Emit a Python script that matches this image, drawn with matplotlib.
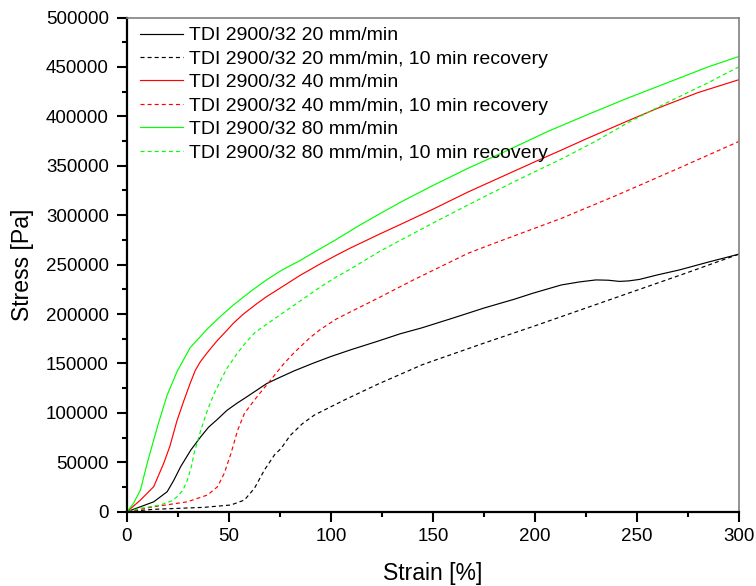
import matplotlib
matplotlib.use("Agg")
import matplotlib.pyplot as plt
from matplotlib.ticker import MultipleLocator

plt.rcParams['font.family'] = ['Liberation Sans', 'DejaVu Sans']

# ---- data ----
x_20 = [0, 6.6, 13.1, 19.7, 23, 26.3, 31.3, 36.2, 40, 44.1, 49, 53.9, 58.6, 63.7, 68.4,
        74, 82, 91, 100, 110, 123, 134, 144.6, 160, 175, 190, 199, 213, 222, 230, 236,
        241.5, 246, 251.3, 260, 270.9, 285, 300]
y_20 = [0, 5000, 10000, 20200, 32000, 45500, 62400, 75900, 85500, 93000, 102500,
        109700, 116000, 123000, 129500, 135000, 142500, 150000, 157000, 164000,
        172500, 180000, 186000, 196000, 206000, 215000, 221000, 229400, 232500,
        234500, 234200, 233000, 233500, 235000, 239500, 244600, 252500, 260500]

x_20r = [0, 13, 37.7, 51, 57.6, 62.5, 67.4, 72.3, 75.6, 80, 86, 91.9, 106.6, 123, 144.6,
         150, 175, 200, 225, 250, 275, 300]
y_20r = [0, 2400, 4400, 6800, 11800, 23700, 42200, 57400, 64100, 77000, 89000, 97800,
         113000, 129000, 148500, 152500, 170500, 188000, 206000, 224000, 242000, 260500]

x_40 = [0, 6.6, 13.1, 18, 21, 24.5, 28, 31, 33.5, 35.9, 39.2, 44, 49, 52.1, 57.1, 63.7,
        68.4, 73.4, 84.8, 95, 102.7, 109.3, 124, 134.5, 150, 167.3, 185, 200, 213.2,
        225, 244.8, 260, 280, 300]
y_40 = [0, 11800, 25300, 49000, 66000, 92000, 113000, 130000, 143000, 151500, 160500,
        172500, 183500, 190500, 200000, 210500, 217500, 224000, 239000, 251000,
        259500, 266500, 281000, 291000, 306000, 323500, 340000, 354000, 366000,
        377000, 394700, 408000, 424000, 437000]

x_40r = [0, 13.1, 29.6, 39.5, 44.4, 47.7, 51, 54.3, 57.6, 62.5, 66, 70.5, 76.6, 82,
         89.7, 94.9, 102.7, 110.9, 124, 140, 167.3, 180, 213.2, 240, 270, 300]
y_40r = [0, 5000, 10000, 16900, 25300, 38800, 59000, 82600, 99500, 113000, 122000,
         133300, 149000, 161000, 176000, 184500, 195000, 203500, 217000, 234000,
         261500, 271500, 296900, 320000, 347000, 374500]

x_80 = [0, 3.2, 6.6, 9.9, 13.1, 15.5, 19.7, 24.6, 31, 35.9, 39.2, 45, 52.1, 57, 62,
        68.4, 76, 84.8, 93, 102.7, 113, 124, 134.5, 150, 167.3, 185, 206.7, 225, 245,
        265, 285, 300]
y_80 = [0, 8500, 22000, 49000, 72600, 90000, 118000, 142000, 166000, 177000, 184500,
        196000, 209000, 217000, 225000, 234500, 244500, 254000, 264000, 275500,
        288500, 301500, 313500, 330000, 347500, 364000, 385000, 401000, 418000,
        434000, 450000, 460500]

x_80r = [0, 6.6, 16.4, 22, 24.6, 27.5, 29.6, 31.5, 32.9, 36.2, 39.5, 42.8, 46.1, 49,
         54.1, 58.6, 62.9, 68.4, 75, 84.8, 95.3, 102.7, 110, 124, 134.5, 150, 167.3,
         190, 213.2, 230, 246, 265, 285, 300]
y_80r = [0, 3400, 6800, 11000, 15200, 22000, 32000, 45000, 59000, 82600, 103000,
         119800, 133500, 145000, 160300, 172000, 181500, 189500, 199000, 213000,
         228000, 237500, 246000, 263500, 275000, 292000, 310400, 334000, 357000,
         375000, 394000, 414000, 434000, 450000]

labels = ["TDI 2900/32 20 mm/min",
          "TDI 2900/32 20 mm/min, 10 min recovery",
          "TDI 2900/32 40 mm/min",
          "TDI 2900/32 40 mm/min, 10 min recovery",
          "TDI 2900/32 80 mm/min",
          "TDI 2900/32 80 mm/min, 10 min recovery"]

x_ticks = [0, 50, 100, 150, 200, 250, 300]
y_ticks = [0, 50000, 100000, 150000, 200000, 250000, 300000, 350000, 400000, 450000, 500000]

# ---- figure ----
fig = plt.figure(figsize=(7.56, 5.86), dpi=100)
ax = fig.add_axes([127 / 756, 1 - 511.7 / 586, (738.7 - 127) / 756, (511.7 - 17.5) / 586])

lw = 0.85
dash = (0, (3.4, 2.6))
series = [(x_20, y_20, 'black', '-'), (x_20r, y_20r, 'black', dash),
          (x_40, y_40, '#ff0000', '-'), (x_40r, y_40r, '#ff0000', dash),
          (x_80, y_80, '#00ff00', '-'), (x_80r, y_80r, '#00ff00', dash)]
for (xs, ys, c, ls), lab in zip(series, labels):
    ax.plot(xs, ys, color=c, linestyle=ls, linewidth=lw, label=lab)

ax.set_xlim(0, 300)
ax.set_ylim(0, 500000)
ax.set_xticks(x_ticks)
ax.set_yticks(y_ticks)
ax.set_xticklabels([str(v) for v in x_ticks])
ax.set_yticklabels([str(v) for v in y_ticks])
ax.xaxis.set_minor_locator(MultipleLocator(25))
ax.yaxis.set_minor_locator(MultipleLocator(25000))

ax.tick_params(which='major', direction='out', length=7, width=1.5, labelsize=13.5)
ax.tick_params(which='minor', direction='out', length=3.5, width=1.5)
ax.tick_params(axis='y', which='major', pad=6)
ax.tick_params(axis='x', which='major', pad=5)

for s in ['left', 'bottom']:
    ax.spines[s].set_linewidth(1.6)
    ax.spines[s].set_color('black')
for s in ['top', 'right']:
    ax.spines[s].set_linewidth(1.2)
    ax.spines[s].set_color('#808080')

ax.set_xlabel("Strain [%]", fontsize=16.6)
ax.set_ylabel("Stress [Pa]", fontsize=16.6)
ax.xaxis.label.set_va('center')
ax.yaxis.label.set_va('center')
ax.xaxis.set_label_coords(0.5, (511.7 - 573) / 494)
ax.yaxis.set_label_coords((22 - 127) / 611.7, 0.5)

leg = ax.legend(loc='upper left', bbox_to_anchor=(0.0085, 0.997), frameon=False,
                fontsize=14, handlelength=2.2, handletextpad=0.3,
                labelspacing=0.3, borderaxespad=0.0)

fig.savefig("out.png", dpi=100)
